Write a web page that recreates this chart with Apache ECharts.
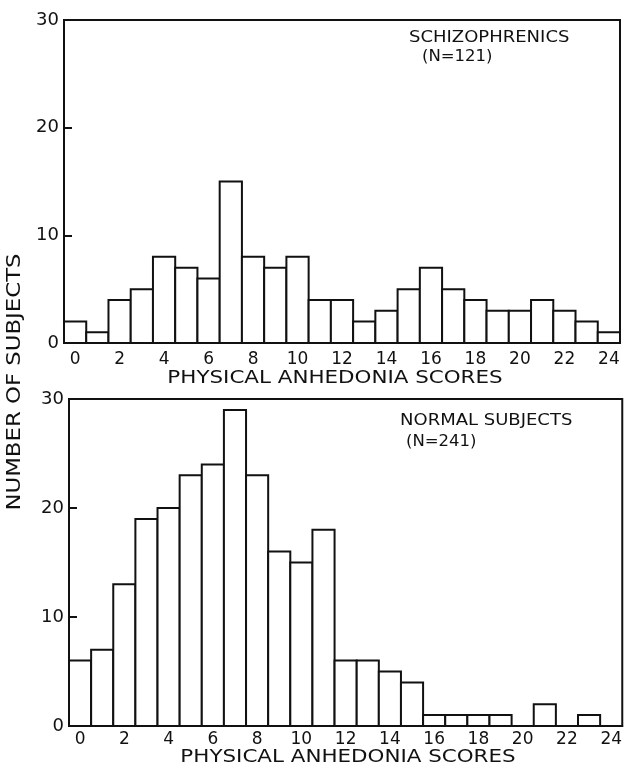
<!DOCTYPE html>
<html>
<head>
<meta charset="utf-8">
<script src="https://cdn.jsdelivr.net/npm/echarts@6/dist/echarts.min.js"></script>
<style>
html,body{margin:0;padding:0;background:#fff;}
#chart{width:625px;height:769px;}
</style>
</head>
<body>
<div id="chart"></div>
<script>
// Data
const scores = ['0','1','2','3','4','5','6','7','8','9','10','11','12','13','14','15','16','17','18','19','20','21','22','23','24'];
const schizophrenics = [2,1,4,5,8,7,6,15,8,7,8,4,4,2,3,5,7,5,4,3,3,4,3,2,1];
const normals = [6,7,13,19,20,23,24,29,23,16,15,18,6,6,5,4,1,1,1,1,0,2,0,1,0];
const yMin = 0, yMax = 30, yStep = 10;
const xTitle = 'PHYSICAL ANHEDONIA SCORES';
const yTitle = 'NUMBER OF SUBJECTS';
const topLabel = ['SCHIZOPHRENICS', '(N=121)'];
const bottomLabel = ['NORMAL SUBJECTS', '(N=241)'];

const INK = '#111';
const FONT = 'DejaVu Sans';

const chart = echarts.init(document.getElementById('chart'), null, {renderer: 'canvas'});

function xAx(gi, margin) {
  return {
    type: 'category', gridIndex: gi, data: scores, boundaryGap: true,
    axisLine: {show: true, lineStyle: {color: INK, width: 2}},
    axisTick: {show: false},
    axisLabel: {interval: 1, color: INK, fontSize: 17, fontFamily: FONT, margin: margin},
    splitLine: {show: false}
  };
}
function yAx(gi) {
  return {
    type: 'value', gridIndex: gi, min: yMin, max: yMax, interval: yStep,
    axisLine: {show: true, lineStyle: {color: INK, width: 2}},
    axisTick: {show: true, inside: true, length: 8, lineStyle: {color: INK, width: 2}},
    axisLabel: {color: INK, fontSize: 18, fontFamily: FONT, margin: 5},
    splitLine: {show: false}
  };
}
function histSeries(idx, data) {
  return {
    type: 'custom', xAxisIndex: idx, yAxisIndex: idx, silent: true,
    data: data.map((v, i) => [i, v]),
    encode: {x: 0, y: 1},
    renderItem: function (params, api) {
      const v = api.value(1);
      if (!v) return null;
      const top = api.coord([api.value(0), v]);
      const base = api.coord([api.value(0), 0]);
      const w = api.size([1, 0])[0];
      return {
        type: 'rect',
        shape: {x: top[0] - w / 2, y: top[1], width: w, height: base[1] - top[1]},
        style: {fill: '#fff', stroke: INK, lineWidth: 2}
      };
    }
  };
}
function txt(x, y, s, size, align, sx, rot) {
  return {
    type: 'text', x: x, y: y, rotation: rot || 0, scaleX: sx || 1, z: 100,
    style: {text: s, fill: INK, font: size + 'px "' + FONT + '"', textAlign: align, textVerticalAlign: 'middle'}
  };
}

chart.setOption({
  animation: false,
  backgroundColor: '#fff',
  grid: [
    {left: 64, top: 20, width: 556, height: 323, show: true, borderColor: INK, borderWidth: 2, backgroundColor: 'transparent'},
    {left: 69, top: 399, width: 554, height: 327, show: true, borderColor: INK, borderWidth: 2, backgroundColor: 'transparent'}
  ],
  xAxis: [xAx(0, 8), xAx(1, 5)],
  yAxis: [yAx(0), yAx(1)],
  series: [histSeries(0, schizophrenics), histSeries(1, normals)],
  graphic: [
    txt(335, 378, xTitle, 18, 'center', 1.19),
    txt(348, 757, xTitle, 18, 'center', 1.19),
    txt(15, 382, yTitle, 19, 'center', 1.2, Math.PI / 2),
    txt(409, 38, topLabel[0], 15, 'left', 1.2),
    txt(422, 57, topLabel[1], 15, 'left', 1.1),
    txt(400, 421, bottomLabel[0], 15, 'left', 1.2),
    txt(406, 442, bottomLabel[1], 15, 'left', 1.1)
  ]
});
</script>
</body>
</html>
